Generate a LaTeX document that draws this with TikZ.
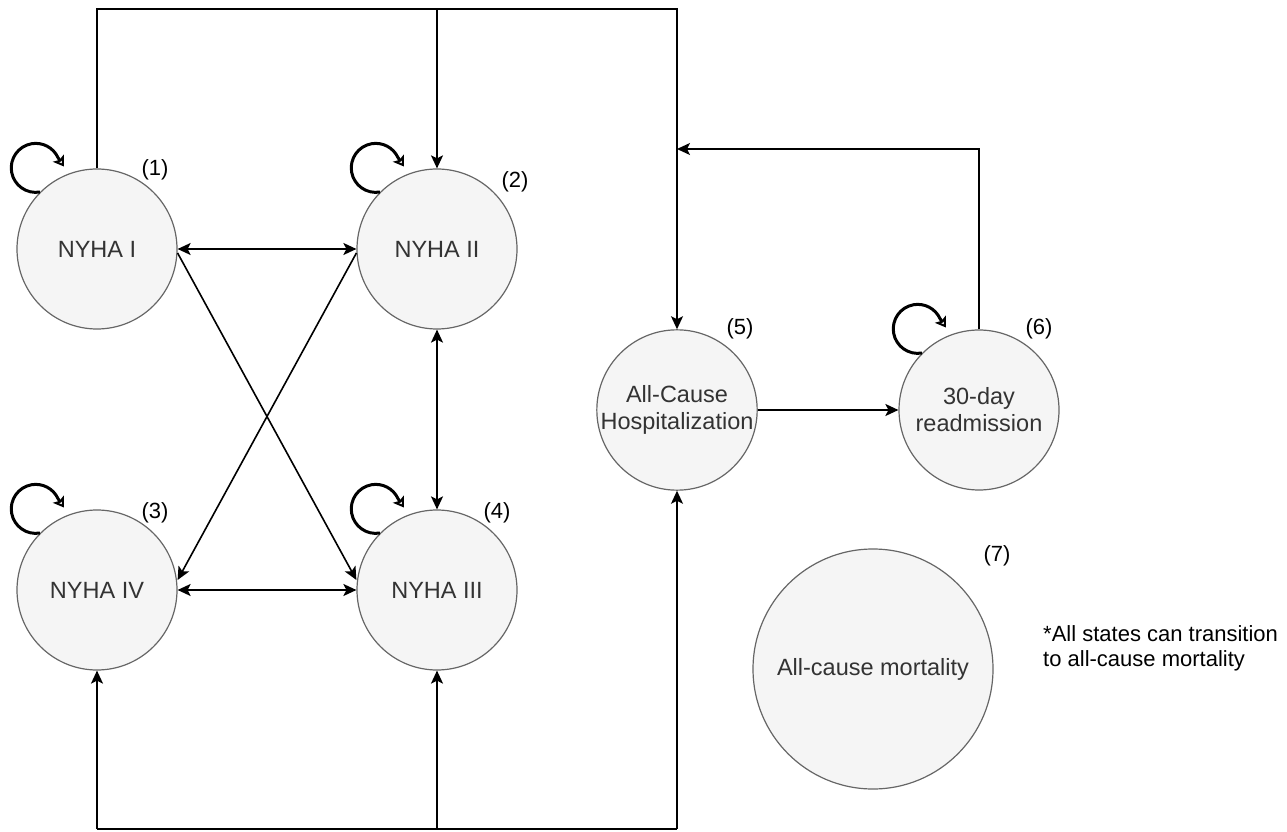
\documentclass[tikz,border=0pt]{standalone}
\usepackage{fontspec}
\setmainfont{Liberation Sans}
\usetikzlibrary{arrows.meta}
\definecolor{nodefill}{HTML}{F5F5F5}
\definecolor{nodeline}{HTML}{666666}
\definecolor{nodetext}{HTML}{333333}
\tikzset{
 state/.style={circle, draw=nodeline, fill=nodefill, line width=1.2pt, minimum size=160pt, inner sep=0pt, text=nodetext, font=\fontsize{23.5}{27}\selectfont, align=center},
 num/.style={font=\fontsize{22}{26}\selectfont, text=black, inner sep=0pt},
 conn/.style={line width=1.6pt, draw=black},
 arr/.style={conn, -{Stealth[length=13pt,width=12pt,inset=3pt]}},
 dbl/.style={conn, {Stealth[length=13pt,width=12pt,inset=3pt]}-{Stealth[length=13pt,width=12pt,inset=3pt]}},
 selfloop/.style={line width=3pt, draw=black, -{Stealth[open,length=10pt,width=13pt,inset=2pt]}}
}
\begin{document}
\begin{tikzpicture}[x=1pt,y=1pt]
\useasboundingbox (0,0) rectangle (1287,831);
\node[state] (n1) at (97,582) {NYHA I};
\node[state] (n2) at (437,582) {NYHA II};
\node[state] (n3) at (97,241) {NYHA IV};
\node[state] (n4) at (437,241) {NYHA III};
\node[state] (n5) at (677,421) {All-Cause\\Hospitalization};
\node[state] (n6) at (979,421) {30-day\\readmission};
\node[state, minimum size=240pt] (n7) at (873,162) {All-cause mortality};

\foreach \n in {n1,n2,n3,n4,n6}
  \draw[selfloop] (\n.135) arc[start angle=-80,end angle=-335,radius=24.5pt] -- ++(6,-9);

\coordinate (ytop) at (0,822);
\coordinate (yread) at (0,682);
\coordinate (ybot) at (0,2);

\draw[arr] (n1.north) -- (n1.north |- ytop) -| (n5.north);
\draw[arr] (n2.north |- ytop) -- (n2.north);
\draw[arr] (n6.north) |- (n5.north |- yread);
\draw[conn] (n3.south |- ybot) -- (n5.south |- ybot);
\draw[arr] (n3.south |- ybot) -- (n3.south);
\draw[arr] (n4.south |- ybot) -- (n4.south);
\draw[arr] (n5.south |- ybot) -- (n5.south);

\draw[dbl] (n1.east) -- (n2.west);
\draw[dbl] (n3.east) -- (n4.west);
\draw[dbl] (n2.south) -- (n4.north);
\draw[arr] ([yshift=-4pt]n1.east) -- ([yshift=10pt]n4.west);
\draw[arr] ([yshift=-4pt]n2.west) -- ([yshift=10pt]n3.east);
\draw[arr] (n5.east) -- (n6.west);

\node[num] (l1) at (155,661) {(1)};
\node[num] (l2) at (515,649) {(2)};
\node[num] (l3) at (155,318) {(3)};
\node[num] (l4) at (497,318) {(4)};
\node[num] (l5) at (740,502) {(5)};
\node[num] (l6) at (1039,502) {(6)};
\node[num] (l7) at (997,275) {(7)};
\node[num, anchor=west, align=left, font=\fontsize{22}{25}\selectfont] (fn) at (1043,183) {*All states can transition\\to all-cause mortality};
\end{tikzpicture}
\end{document}
